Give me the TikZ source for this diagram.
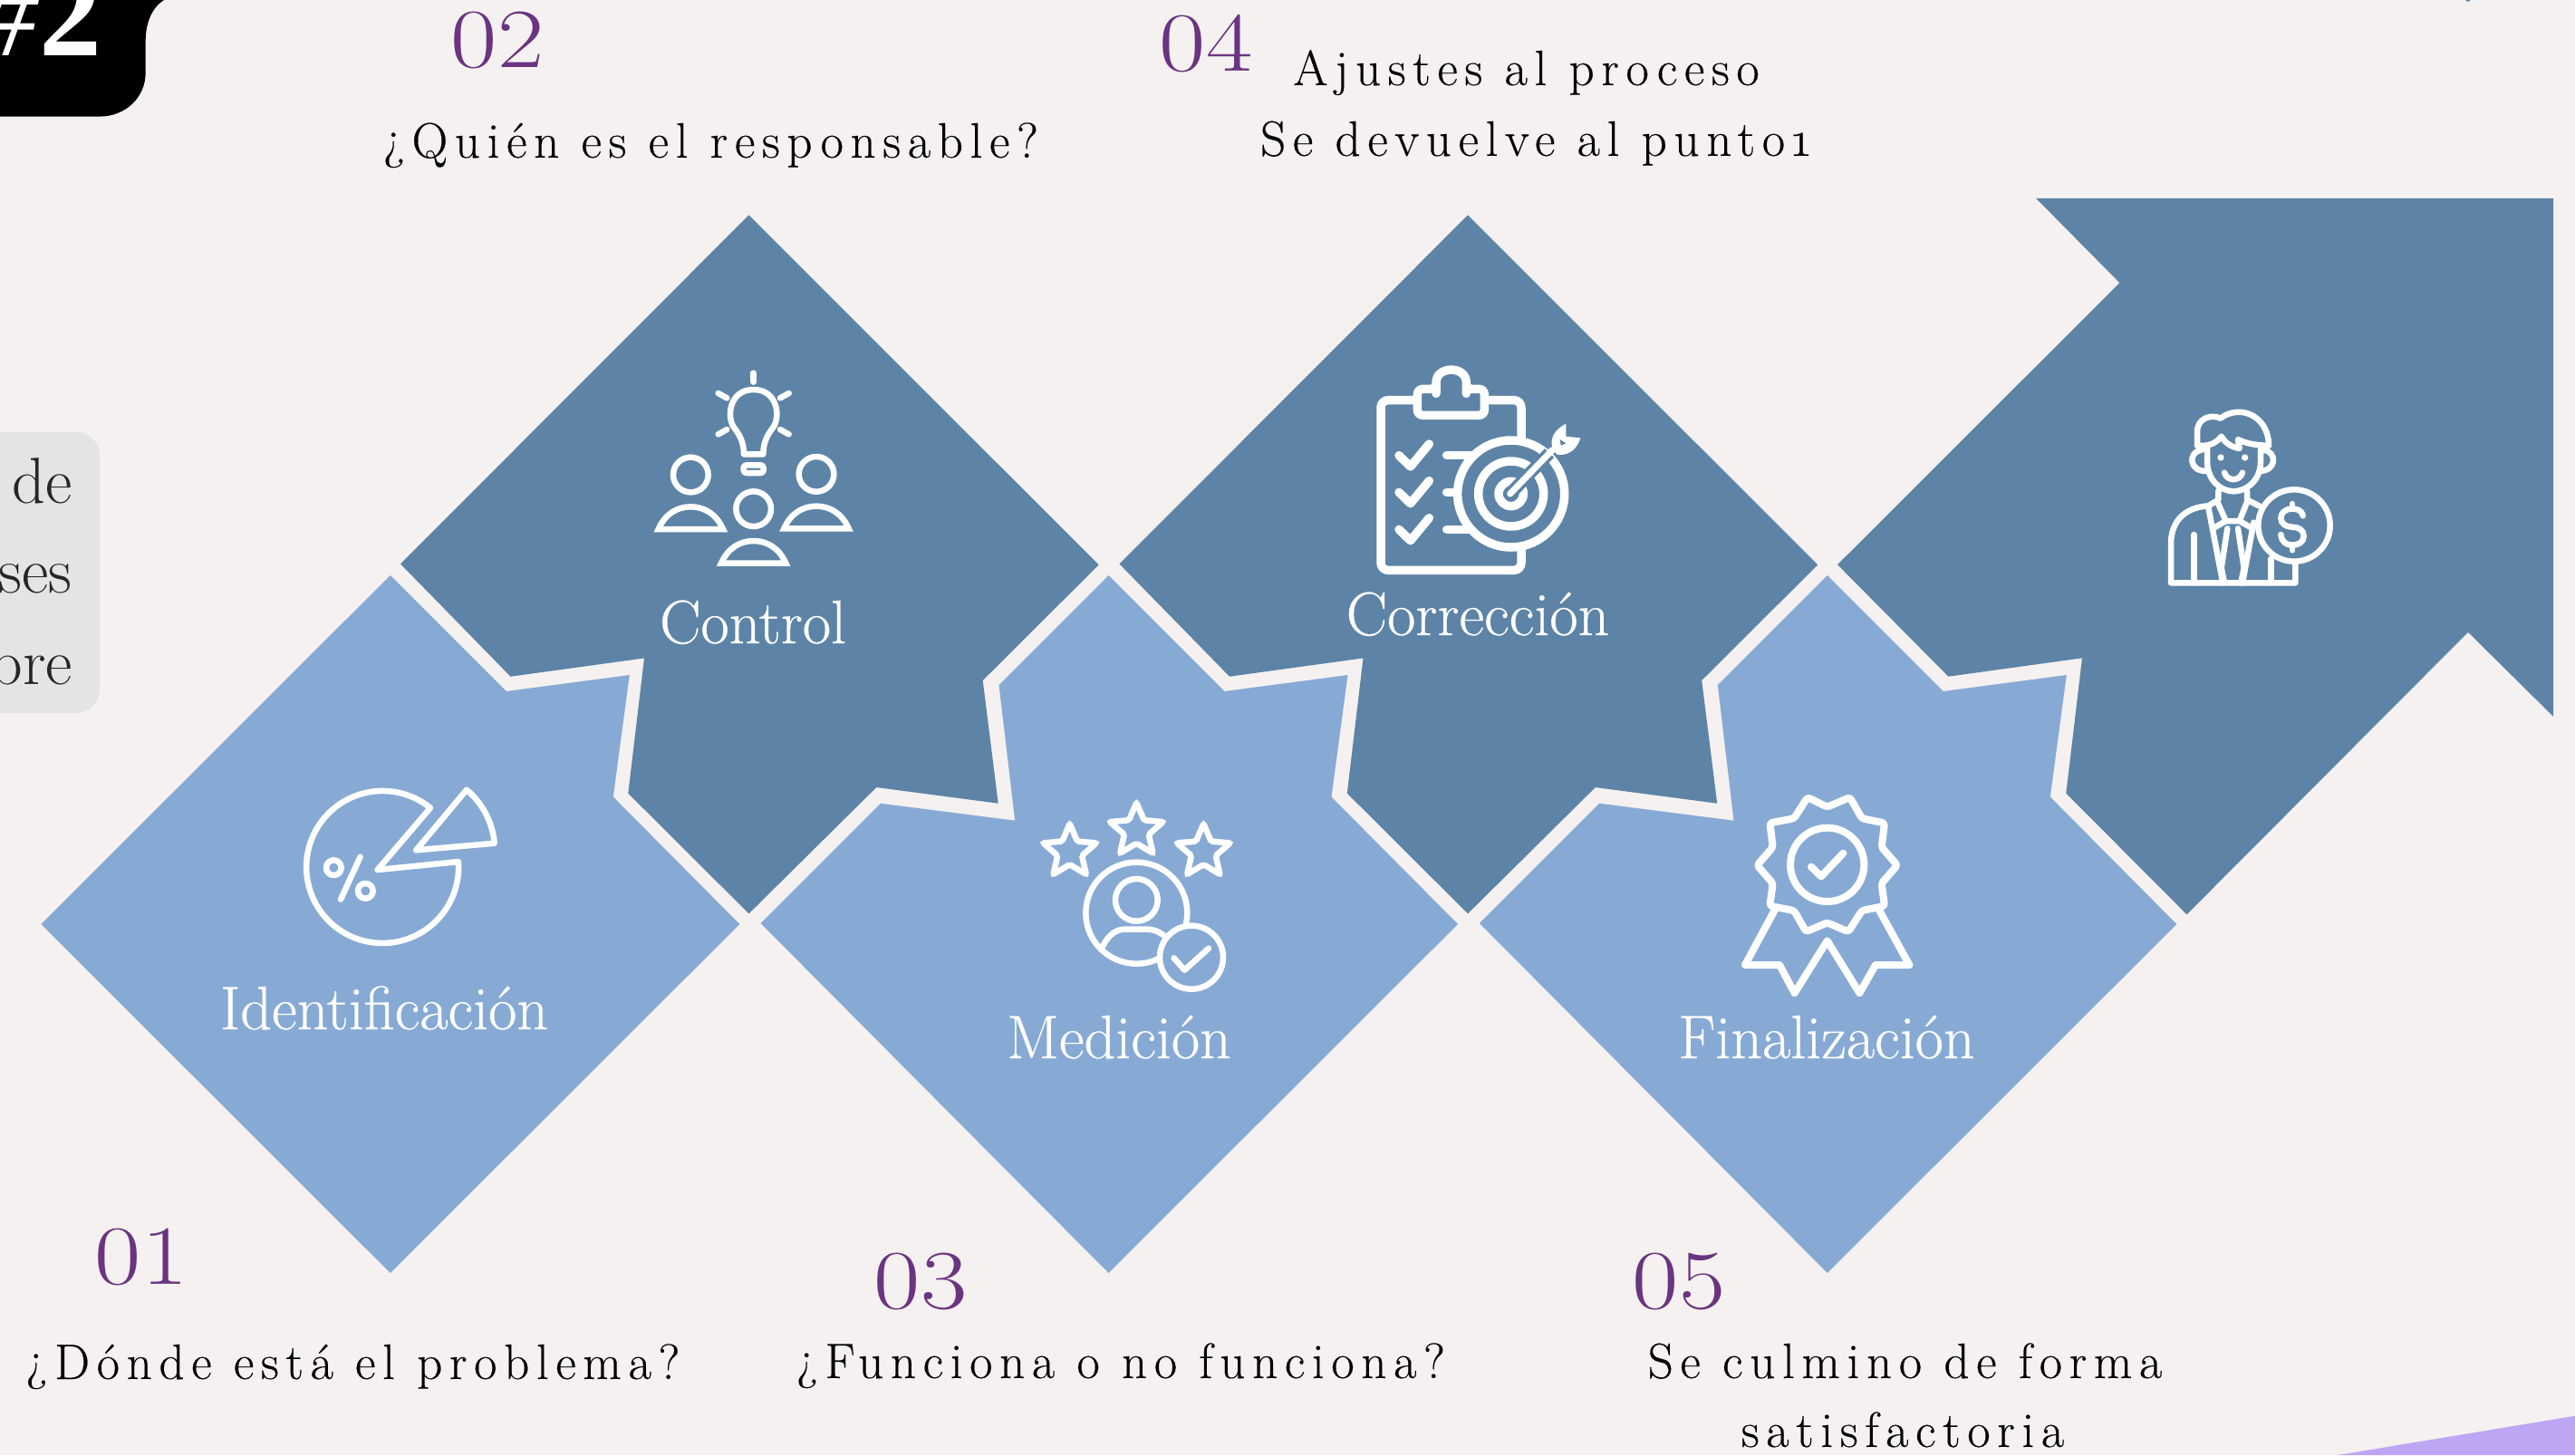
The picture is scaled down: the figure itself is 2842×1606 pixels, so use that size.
\documentclass[tikz,border=0pt]{standalone}
\usepackage{fontspec}
\setmainfont{Latin Modern Roman}
\newfontfamily\bodyfont[LetterSpace=14,Numbers=OldStyle,FakeBold=0.25]{Latin Modern Roman}
\newfontfamily\labelfont[FakeBold=0.4]{Latin Modern Roman}
\newfontfamily\numfont[Numbers=Lining,FakeStretch=1.2]{Latin Modern Roman}
\newfontfamily\tagfont{Liberation Serif}
\usetikzlibrary{positioning}
\usetikzlibrary{shapes.geometric}
\definecolor{paper}{HTML}{F5F1F0}
\definecolor{darkblue}{HTML}{5D84A6}
\definecolor{lightblue}{HTML}{87AAD5}
\definecolor{plum}{HTML}{6A3480}
\definecolor{lavender}{HTML}{BEA6F5}
\definecolor{greybox}{HTML}{E4E4E4}

\begin{document}
\begin{tikzpicture}[x=1pt,y=-1pt]

\tikzstyle{question} = [anchor=base, inner sep=0pt, text=black, font=\bodyfont\fontsize{55}{60}\selectfont]
\tikzstyle{number} = [anchor=base, inner sep=0pt, text=plum, font=\numfont\fontsize{93}{96}\selectfont]
\tikzstyle{steplabel} = [anchor=base, inner sep=0pt, text=white, font=\labelfont\fontsize{68}{70}\selectfont]
\tikzstyle{sidetext} = [anchor=base east, inner sep=0pt, text=black!85, font=\fontsize{72}{74}\selectfont]
\tikzstyle{icon} = [draw=white, line width=6.5pt, line cap=round, line join=round]
\tikzstyle{iconstar} = [star, star points=5, star point ratio=2.2, draw=white, line width=6.5pt, minimum size=62pt, inner sep=0pt, rounded corners=2pt]

\useasboundingbox (0,0) rectangle (2842,1606);
\fill[paper] (0,0) rectangle (2842,1606);

\fill[lavender] (2580,1606) -- (2842,1562.7) -- (2842,1606) -- cycle;
\fill[darkblue] (2721,0) -- (2727,0) -- (2724,2) -- cycle;

\fill[black] (0,0) -- (181,0) .. controls (168,8) and (160.7,25) .. (160.7,45) -- (160.7,80)
    .. controls (160.7,108) and (138,128.6) .. (110,128.6) -- (0,128.6) -- cycle;
\node[anchor=base east, inner sep=0pt, text=white, font=\tagfont\fontsize{138}{140}\selectfont] at (113,61) (tag) {\textit{\#}\textbf{2}};

\fill[greybox, rounded corners=26pt] (-40,477) rectangle (110,787);
\node[sidetext] at (80,555) (side1) {de};
\node[sidetext] at (80,654.6) (side2) {ses};
\node[sidetext] at (80,755) (side3) {bre};

% dark pieces
\foreach \t in {826.5,1620} {
    \fill[darkblue, shift={(\t,237.4)}] (0,0) -- (386.2,386) -- (258.2,513.6) -- (275.2,649.3) -- (140.8,631.6)
        -- (0,771) -- (-133.2,638.2) -- (-115.5,489) -- (-263,509.3) -- (-384.5,385) -- cycle;
}
\fill[darkblue] (2247,218.8) -- (2339.4,312.2) -- (2028,623.2) -- (2150.4,746.7) -- (2298,726.3) -- (2280.3,875.6)
    -- (2413.5,1009.3) -- (2724,697.8) -- (2818,790.8) -- (2818,218.8) -- cycle;

% light pieces
\fill[lightblue, shift={(430.8,635)}] (0,0) -- (128,128) -- (264,110) -- (246,244.5) -- (385.5,385)
    -- (0,770) -- (-385.5,385) -- cycle;
\foreach \t in {1223.5,2016.8} {
    \fill[lightblue, shift={(\t,635)}] (0,0) -- (128,128) -- (264,110) -- (246,244.5) -- (385.5,385)
        -- (0,770) -- (-384,384) -- (-251.6,251.7) -- (-103.3,270.7) -- (-121,121) -- cycle;
}

\node[steplabel] at (424,1136) (label1) {Identificación};
\node[steplabel] at (831,710) (label2) {Control};
\node[steplabel] at (1235,1168) (label3) {Medición};
\node[steplabel] at (1631,701) (label4) {Corrección};
\node[steplabel] at (2016,1168) (label5) {Finalización};

\node[number] at (156,1417) (num1) {01};
\node[number] at (549,74) (num2) {02};
\node[number] at (1016,1444) (num3) {03};
\node[number] at (1331,78) (num4) {04};
\node[number] at (1853,1444) (num5) {05};

\node[question] at (389.5,1522) (text1) {¿Dónde está el problema?};
\node[question] at (784.5,174) (text2) {¿Quién es el responsable?};
\node[question] at (1237,1521) (text3) {¿Funciona o no funciona?};
\node[question] at (1684.5,94) (text4a) {Ajustes al proceso};
\node[question] at (1694.5,172) (text4b) {Se devuelve al punto1};
\node[question] at (2102.5,1521) (text5a) {Se culmino de forma};
\node[question] at (2100,1597) (text5b) {satisfactoria};

% pie
\begin{scope}[shift={(300,800)},scale=1/3]
\draw[icon, line cap=butt] (350,480) -- (525,275) arc[start angle=-51,end angle=-364,radius=252] -- cycle;
\draw[icon, line cap=butt] (478,415) -- (645,215) arc[start angle=-50,end angle=-5,radius=261] -- cycle;
\draw[icon] (205,473) circle (25);
\draw[icon] (310,550) circle (25);
\draw[icon] (293,437) -- (228,578);
\end{scope}

% bulb and people
\begin{scope}[shift={(680,380)},scale=1/3]
\foreach \xa/\ya/\xb/\yb in {455/95/455/125, 338/162/367/178, 572/162/543/178, 338/298/367/282, 572/298/543/282} {
    \draw[icon] (\xa,\ya) -- (\xb,\yb);
}
\draw[icon] (423,364) .. controls (423,320) and (405,295) .. (390,275) .. controls (365,240) and (375,150) .. (455,150)
    .. controls (535,150) and (545,240) .. (520,275) .. controls (505,295) and (487,320) .. (487,364) -- cycle;
\draw[icon, rounded corners=3pt] (422,400) rectangle (488,426);
\foreach \px/\py in {247/432, 663/430, 455/545} {
    \draw[icon] (\px,\py) circle (58);
    \draw[icon, line join=miter, shift={(\px,\py)}] (-107,180) .. controls (-85,130) and (-45,106) .. (0,106)
        .. controls (45,106) and (85,130) .. (107,180) -- cycle;
}
\end{scope}

% stars and person
\begin{scope}[shift={(1120,860)},scale=1/3]
\node[iconstar] at (182,240) (star1) {};
\node[iconstar] at (403,170) (star2) {};
\node[iconstar] at (625,240) (star3) {};
\draw[icon] (403,443) circle (168);
\draw[icon] (403,400) circle (70);
\draw[icon] (290,555) .. controls (310,515) and (335,497) .. (365,497) -- (440,497) .. controls (465,497) and (485,510) .. (500,522);
\draw[icon, fill=lightblue] (585,590) circle (105);
\draw[icon] (527,592) -- (562,632) -- (642,560);
\end{scope}

% clipboard and target
\begin{scope}[shift={(1480,380)},scale=1/3]
\tikzstyle{thick icon} = [icon, line width=9.5pt]
\draw[thick icon, rounded corners=8pt] (132,185) rectangle (597,748);
\draw[thick icon, fill=darkblue, rounded corners=6pt] (253,235) -- (253,148) -- (315,148) -- (315,145)
    .. controls (315,70) and (415,70) .. (415,145) -- (415,148) -- (475,148) -- (475,235) -- cycle;
\foreach \d in {0,122,245} {
    \draw[thick icon] (192,368+\d) -- (230,405+\d) -- (292,330+\d);
}
\draw[thick icon] (350,367) -- (430,367);
\draw[thick icon] (350,490) -- (375,490);
\draw[thick icon] (350,613) -- (420,613);
\draw[thick icon, fill=darkblue] (563,495) circle (177);
\draw[thick icon] (563,495) circle (108);
\draw[thick icon] (563,495) circle (41);
\draw[darkblue, line width=14pt, line cap=butt] (560,495) -- (690,360);
\draw[icon, line width=7pt] (560,495) -- (700,350);
\fill[white] (715,365) .. controls (690,340) and (685,295) .. (745,263) -- (745,305) -- (793,310)
    .. controls (780,355) and (745,370) .. (715,365) -- cycle;
\fill[darkblue] (725,315) -- (745,328) -- (728,335) -- cycle;
\end{scope}

% badge
\begin{scope}[shift={(1900,860)},scale=1/3]
\tikzstyle{badge} = [icon, line width=8pt]
\draw[badge] (178,430) -- (78,615) -- (192,615) -- (242,708) -- (350,535) -- (457,708) -- (510,615) -- (622,615) -- (520,430);
\draw[badge, fill=lightblue, rounded corners=3pt] (285,60) -- (350,92) -- (425,60) -- (465,130) -- (540,145) -- (530,225) -- (582,285)
    -- (530,345) -- (540,420) -- (465,435) -- (420,505) -- (350,475) -- (280,505) -- (240,435) -- (160,420) -- (170,345)
    -- (118,285) -- (170,225) -- (160,145) -- (240,130) -- cycle;
\draw[badge] (350,283) circle (122);
\draw[badge] (297,290) -- (330,322) -- (403,245);
\end{scope}

% man with coin
\begin{scope}[shift={(2360,430)},scale=1/3]
\draw[icon] (195,185) -- (195,140) .. controls (195,95) and (240,80) .. (272,95) .. controls (340,45) and (432,90) .. (432,185);
\draw[icon] (195,185) .. controls (235,190) and (260,175) .. (275,155) .. controls (290,180) and (310,190) .. (335,195)
    -- (330,165) .. controls (360,180) and (395,185) .. (432,185);
\draw[icon] (210,200) .. controls (165,205) and (165,270) .. (225,270);
\draw[icon] (415,200) .. controls (460,205) and (460,270) .. (400,270);
\draw[icon] (228,190) -- (228,240) .. controls (230,300) and (270,335) .. (315,337) .. controls (365,335) and (405,295) .. (405,240) -- (405,190);
\fill[white] (273,225) circle (11);
\fill[white] (353,225) circle (11);
\draw[icon] (285,275) .. controls (295,305) and (335,305) .. (345,275);
\draw[icon] (265,335) -- (265,365) -- (232,385) .. controls (150,390) and (108,440) .. (108,510) -- (108,640) -- (520,640) -- (520,580);
\draw[icon] (360,335) -- (360,365) -- (400,385);
\draw[icon] (185,480) -- (185,640);
\draw[icon] (440,560) -- (440,640);
\draw[icon] (232,390) -- (280,640);
\draw[icon] (382,440) -- (345,640);
\draw[icon] (262,372) -- (290,435) -- (335,435) -- (360,372);
\draw[icon] (290,435) -- (250,458);
\draw[icon] (335,435) -- (375,458);
\draw[icon] (295,460) -- (275,590) -- (285,640);
\draw[icon] (330,460) -- (350,590) -- (340,640);
\draw[icon, fill=darkblue] (516,450) circle (119);
\draw[icon] (545,418) .. controls (540,395) and (520,395) .. (508,395) .. controls (485,395) and (472,410) .. (472,425)
    .. controls (472,445) and (490,455) .. (510,455) .. controls (530,455) and (548,465) .. (548,485)
    .. controls (548,505) and (530,515) .. (510,515) .. controls (490,515) and (475,505) .. (472,480);
\draw[icon] (510,378) -- (510,395);
\draw[icon] (510,515) -- (510,532);
\end{scope}

\end{tikzpicture}
\end{document}
